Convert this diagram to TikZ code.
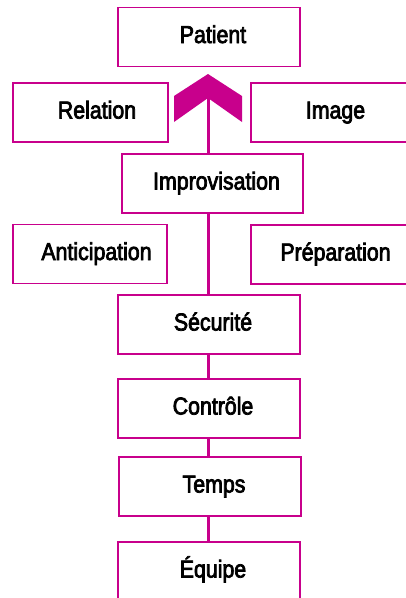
\documentclass[tikz,border=0pt]{standalone}
\usepackage{fontspec}
\setmainfont{Liberation Sans}[FakeStretch=0.87,FakeBold=3]
\definecolor{magline}{HTML}{C8008C}
\tikzset{
    box/.style={draw=magline, line width=1.5pt, fill=white, minimum height=59pt,
        text height=17pt, text depth=5pt, font=\fontsize{24.5}{28}\selectfont},
    widebox/.style={box, minimum width=182pt, execute at begin node={\hspace*{8pt}}},
    sidebox/.style={box, minimum width=155pt, execute at begin node={\hspace*{13pt}}},
    link/.style={draw=magline, line width=3pt}
}
\begin{document}
\begin{tikzpicture}[x=1pt,y=-1pt]
        \useasboundingbox (0,0) rectangle (406,598);
        %% Central line
        \coordinate (notch) at (208,98);
        \draw[link] (notch) -- (208,575);
        %% Chevron
        \fill[magline] (208,74) -- (242,96) -- (242,122) -- (notch) -- (174,122) -- (174,96) -- cycle;
        %% Main column
        \node[widebox] (patient) at (209,37) {Patient};
        \node[widebox, minimum width=181pt] (improv) at (212.5,183.5) {Improvisation};
        \node[widebox] (secu) at (209,324.5) {Sécurité};
        \node[widebox] (ctrl) at (209,408.5) {Contrôle};
        \node[widebox] (temps) at (210,486.5) {Temps};
        \node[widebox] (equipe) at (209,571.5) {Équipe};
        %% Side boxes
        \node[sidebox] (relation) at (90.5,112.5) {Relation};
        \node[sidebox, minimum width=156pt] (image) at (329,112.5) {Image};
        \node[sidebox, minimum width=154pt] (anticip) at (90,254) {Anticipation};
        \node[sidebox, minimum width=156pt] (prepa) at (329,254.5) {Préparation};
\end{tikzpicture}
\end{document}
